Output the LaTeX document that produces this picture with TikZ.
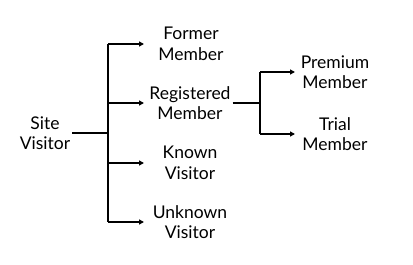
\documentclass[tikz,border=0pt]{standalone}
\usepackage{fontspec}
\setmainfont{Lato}
\usetikzlibrary{arrows.meta}
\begin{document}
\begin{tikzpicture}[x=1pt,y=-1pt,
  lbl/.style={align=center,inner sep=0pt,font=\fontsize{17.5}{20.5}\selectfont},
  conn/.style={line width=1.4pt},
  arr/.style={conn,-{Triangle[length=5pt,width=5pt]}}]
\useasboundingbox (0,0) rectangle (413,265);
\node[lbl] (site) at (45,133) {Site\\Visitor};
\node[lbl] (former) at (191,44) {Former\\Member};
\node[lbl] (reg) at (190,103) {Registered\\Member};
\node[lbl] (known) at (190,163) {Known\\Visitor};
\node[lbl] (unknown) at (190,222) {Unknown\\Visitor};
\node[lbl] (prem) at (335,72) {Premium\\Member};
\node[lbl] (trial) at (335,134) {Trial\\Member};
\coordinate (j1) at (108,133);
\coordinate (j2) at (260,103);
\coordinate (e1) at (144,0);
\coordinate (e2) at (295,0);
\draw[conn] ([xshift=2pt]site.east) -- (j1);
\draw[conn] (j1|-former) -- (j1|-unknown);
\foreach \t in {former,reg,known,unknown}
  \draw[arr] (j1|-\t) -- (e1|-\t);
\draw[conn] ([xshift=2pt]reg.east) -- (j2);
\draw[conn] (j2|-prem) -- (j2|-trial);
\foreach \t in {prem,trial}
  \draw[arr] (j2|-\t) -- (e2|-\t);
\end{tikzpicture}
\end{document}
